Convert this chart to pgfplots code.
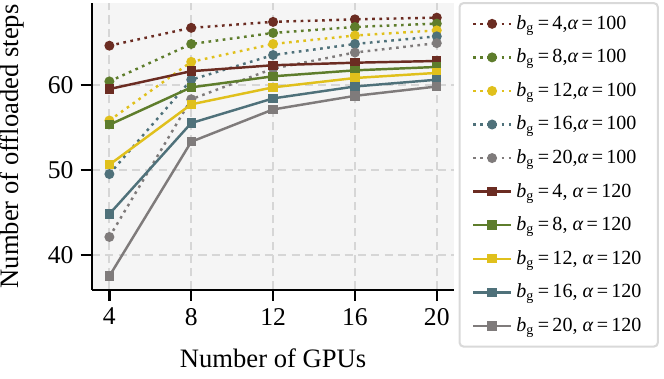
\documentclass[border=0pt]{standalone}
\usepackage{fontspec}
\setmainfont{Liberation Serif}
\usepackage{pgfplots}
\pgfplotsset{compat=1.18}
\definecolor{cBrown}{HTML}{6B2C22}
\definecolor{cGreen}{HTML}{5E7D2C}
\definecolor{cYellow}{HTML}{E0C01C}
\definecolor{cTeal}{HTML}{4F717A}
\definecolor{cGray}{HTML}{7F7B7B}
\newcommand{\lab}[3]{\textit{b}\textsubscript{g}\,=\,#1,#2\textit{α}\,=\,#3}

\begin{document}
\begin{tikzpicture}
\begin{axis}[
    scale only axis,
    width=177pt, height=140pt,
    xmin=3.15, xmax=20.85, ymin=35.9, ymax=69.6,
    xtick={4,8,12,16,20}, ytick={40,50,60},
    axis x line*=bottom, axis y line*=left,
    axis line style={-, line width=1.1pt, black},
    tick style={black, line width=1.1pt},
    major tick length=5.5pt,
    tick align=outside,
    grid=major,
    major grid style={black!16, line width=0.9pt, dash pattern=on 4pt off 2.5pt},
    axis background/.style={fill=black!4},
    xlabel={Number of GPUs},
    ylabel={Number of offloaded steps},
    label style={font=\fontsize{13}{15}\selectfont, inner sep=0pt},
    xlabel style={at={(axis description cs:0.5,0)}, anchor=base, yshift=-38pt, text depth=5.5pt},
    ylabel style={at={(axis description cs:0,0.5)}, anchor=center, yshift=39pt},
    tick label style={font=\fontsize{12.5}{14}\selectfont},
    /pgf/number format/assume math mode=true,
    legend cell align=left,
    legend style={at={(1.012,1.004)}, anchor=north west,
        draw=black!15, line width=1pt, rounded corners=2pt, fill=white,
        font=\fontsize{9.8}{11}\selectfont, row sep=4.1pt,
        inner xsep=6pt, inner ysep=4pt,
        /tikz/every even column/.append style={column sep=3pt}},
    legend image code/.code={
        \draw[mark repeat=2, mark phase=2] plot coordinates {(0pt,0pt) (9.3pt,0pt) (18.6pt,0pt)};
    },
    every axis plot/.append style={line width=1.2pt},
]
% alpha = 100 (dotted, circles)
\addplot[cBrown, dash pattern=on 1.3pt off 2.2pt, mark=*, mark size=1.8pt, mark options={solid}]
  coordinates {(4,64.6) (8,66.7) (12,67.4) (16,67.7) (20,67.9)};
\addplot[cGreen, dash pattern=on 1.3pt off 2.2pt, mark=*, mark size=1.8pt, mark options={solid}]
  coordinates {(4,60.4) (8,64.8) (12,66.1) (16,66.8) (20,67.2)};
\addplot[cYellow, dash pattern=on 1.3pt off 2.2pt, mark=*, mark size=1.8pt, mark options={solid}]
  coordinates {(4,55.8) (8,62.7) (12,64.8) (16,65.8) (20,66.4)};
\addplot[cTeal, dash pattern=on 1.3pt off 2.2pt, mark=*, mark size=1.8pt, mark options={solid}]
  coordinates {(4,49.5) (8,60.6) (12,63.5) (16,64.8) (20,65.7)};
\addplot[cGray, dash pattern=on 1.3pt off 2.2pt, mark=*, mark size=1.8pt, mark options={solid}]
  coordinates {(4,42.1) (8,58.3) (12,61.9) (16,63.8) (20,64.9)};
% alpha = 120 (solid, squares)
\addplot[cBrown, solid, mark=square*, mark size=1.7pt]
  coordinates {(4,59.5) (8,61.6) (12,62.3) (16,62.6) (20,62.8)};
\addplot[cGreen, solid, mark=square*, mark size=1.7pt]
  coordinates {(4,55.3) (8,59.7) (12,61.0) (16,61.7) (20,62.1)};
\addplot[cYellow, solid, mark=square*, mark size=1.7pt]
  coordinates {(4,50.6) (8,57.7) (12,59.7) (16,60.8) (20,61.4)};
\addplot[cTeal, solid, mark=square*, mark size=1.7pt]
  coordinates {(4,44.8) (8,55.5) (12,58.4) (16,59.8) (20,60.6)};
\addplot[cGray, solid, mark=square*, mark size=1.7pt]
  coordinates {(4,37.5) (8,53.3) (12,57.1) (16,58.7) (20,59.8)};
\legend{\lab{4}{}{100}, \lab{8}{}{100}, \lab{12}{}{100}, \lab{16}{}{100}, \lab{20}{}{100},
        \lab{4}{ }{120}, \lab{8}{ }{120}, \lab{12}{ }{120}, \lab{16}{ }{120}, \lab{20}{ }{120}}
\end{axis}
% small margin at the top right, as in the reference
\path (current bounding box.north east) ++(2.5pt,1pt);
\end{tikzpicture}
\end{document}
